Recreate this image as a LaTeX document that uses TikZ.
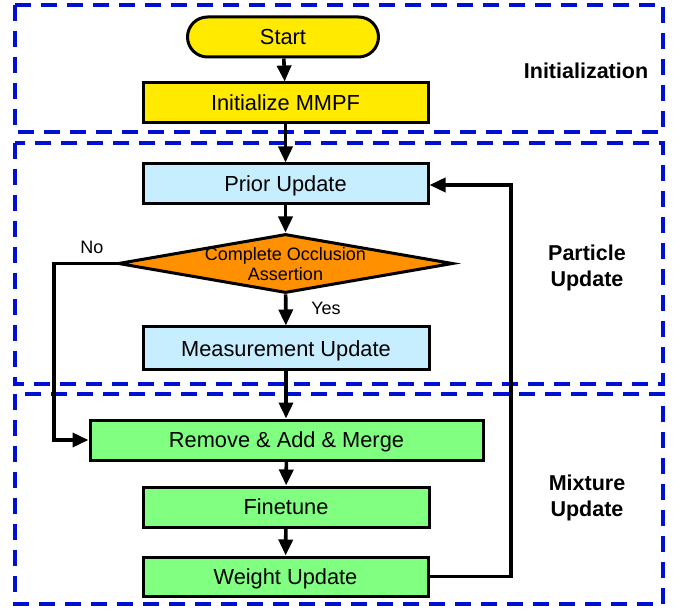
\documentclass[tikz,border=0pt]{standalone}
\usepackage{fontspec}
\setmainfont{Liberation Sans}
\usetikzlibrary{shapes.geometric,arrows.meta}
\definecolor{cyel}{RGB}{255,234,0}
\definecolor{cblu}{RGB}{198,238,255}
\definecolor{cora}{RGB}{255,145,0}
\definecolor{cgrn}{RGB}{128,255,128}
\definecolor{cdash}{RGB}{0,16,210}
\begin{document}
\begin{tikzpicture}[x=1pt,y=-1pt,
  boxtxt/.style={font=\fontsize{21.8}{24}\selectfont, text height=15.5pt, text depth=0pt},
  procbox/.style={draw=black, line width=3pt, rectangle, inner sep=0pt, boxtxt},
  decision/.style={draw=black, line width=3pt, diamond, inner sep=0pt, aspect=5.68, fill=cora},
  flow/.style={draw=black, line width=3.6pt, -{Triangle[length=16pt,width=14pt]}},
  region/.style={draw=cdash, line width=3.2pt, dash pattern=on 16pt off 10pt},
  regionlabel/.style={font=\fontsize{21.5}{26}\selectfont\bfseries, align=center},
  smalltxt/.style={font=\fontsize{18}{20}\selectfont}
]
\useasboundingbox (0,0) rectangle (683,612);

% regions
\draw[region] (15,5) rectangle (663,132);
\draw[region] (15,143) rectangle (663,384);
\draw[region] (15,394) rectangle (663,604);

\node[regionlabel] (linit) at (586,71) {Initialization};
\node[regionlabel] (lpart) at (587,268) {Particle\\Update};
\node[regionlabel] (lmix) at (587,498) {Mixture\\Update};

% nodes
\node[procbox, fill=cyel, rounded corners=20pt, minimum width=191pt, minimum height=40pt] (start) at (283,37) {Start};
\node[procbox, fill=cyel, minimum width=285pt, minimum height=40pt] (init) at (285.5,103) {Initialize MMPF};
\node[procbox, fill=cblu, minimum width=285pt, minimum height=40pt] (prior) at (285.5,184) {Prior Update};
\node[decision, minimum width=335pt, minimum height=59pt,
  label={[smalltxt, align=center, inner sep=0pt, yshift=-1pt]center:Complete Occlusion\\Assertion}] (dec) at (285.5,263.5) {};
\node[procbox, fill=cblu, minimum width=286pt, minimum height=43pt] (meas) at (286,348.5) {Measurement Update};
\node[procbox, fill=cgrn, minimum width=393pt, minimum height=40pt] (rem) at (286.5,440) {Remove \& Add \& Merge};
\node[procbox, fill=cgrn, minimum width=286pt, minimum height=40pt] (fine) at (286,507) {Finetune};
\node[procbox, fill=cgrn, minimum width=285pt, minimum height=39pt] (wgt) at (285.5,576.5) {Weight Update};

\coordinate (nocorner1) at (54,263.5);
\coordinate (nocorner2) at (54,440);
\coordinate (fb1) at (511,576.5);
\coordinate (fb2) at (511,185);

% connectors
\draw[flow] (start) -- (init);
\draw[flow] (init) -- (prior);
\draw[flow] (prior) -- (dec);
\draw[flow] (dec) -- (meas);
\draw[flow] (meas.south) -- (meas.south |- rem.north);
\draw[flow] (rem) -- (fine);
\draw[flow] (fine) -- (wgt);
\draw[flow] (dec.west) -- (nocorner1) -- (nocorner2) -- (rem.west);
\draw[flow] (wgt.east) -- (fb1) -- (fb2) -- (prior.east |- fb2);

\node[smalltxt] (no) at (92,247) {No};
\node[smalltxt] (yes) at (326,308) {Yes};
\end{tikzpicture}
\end{document}
